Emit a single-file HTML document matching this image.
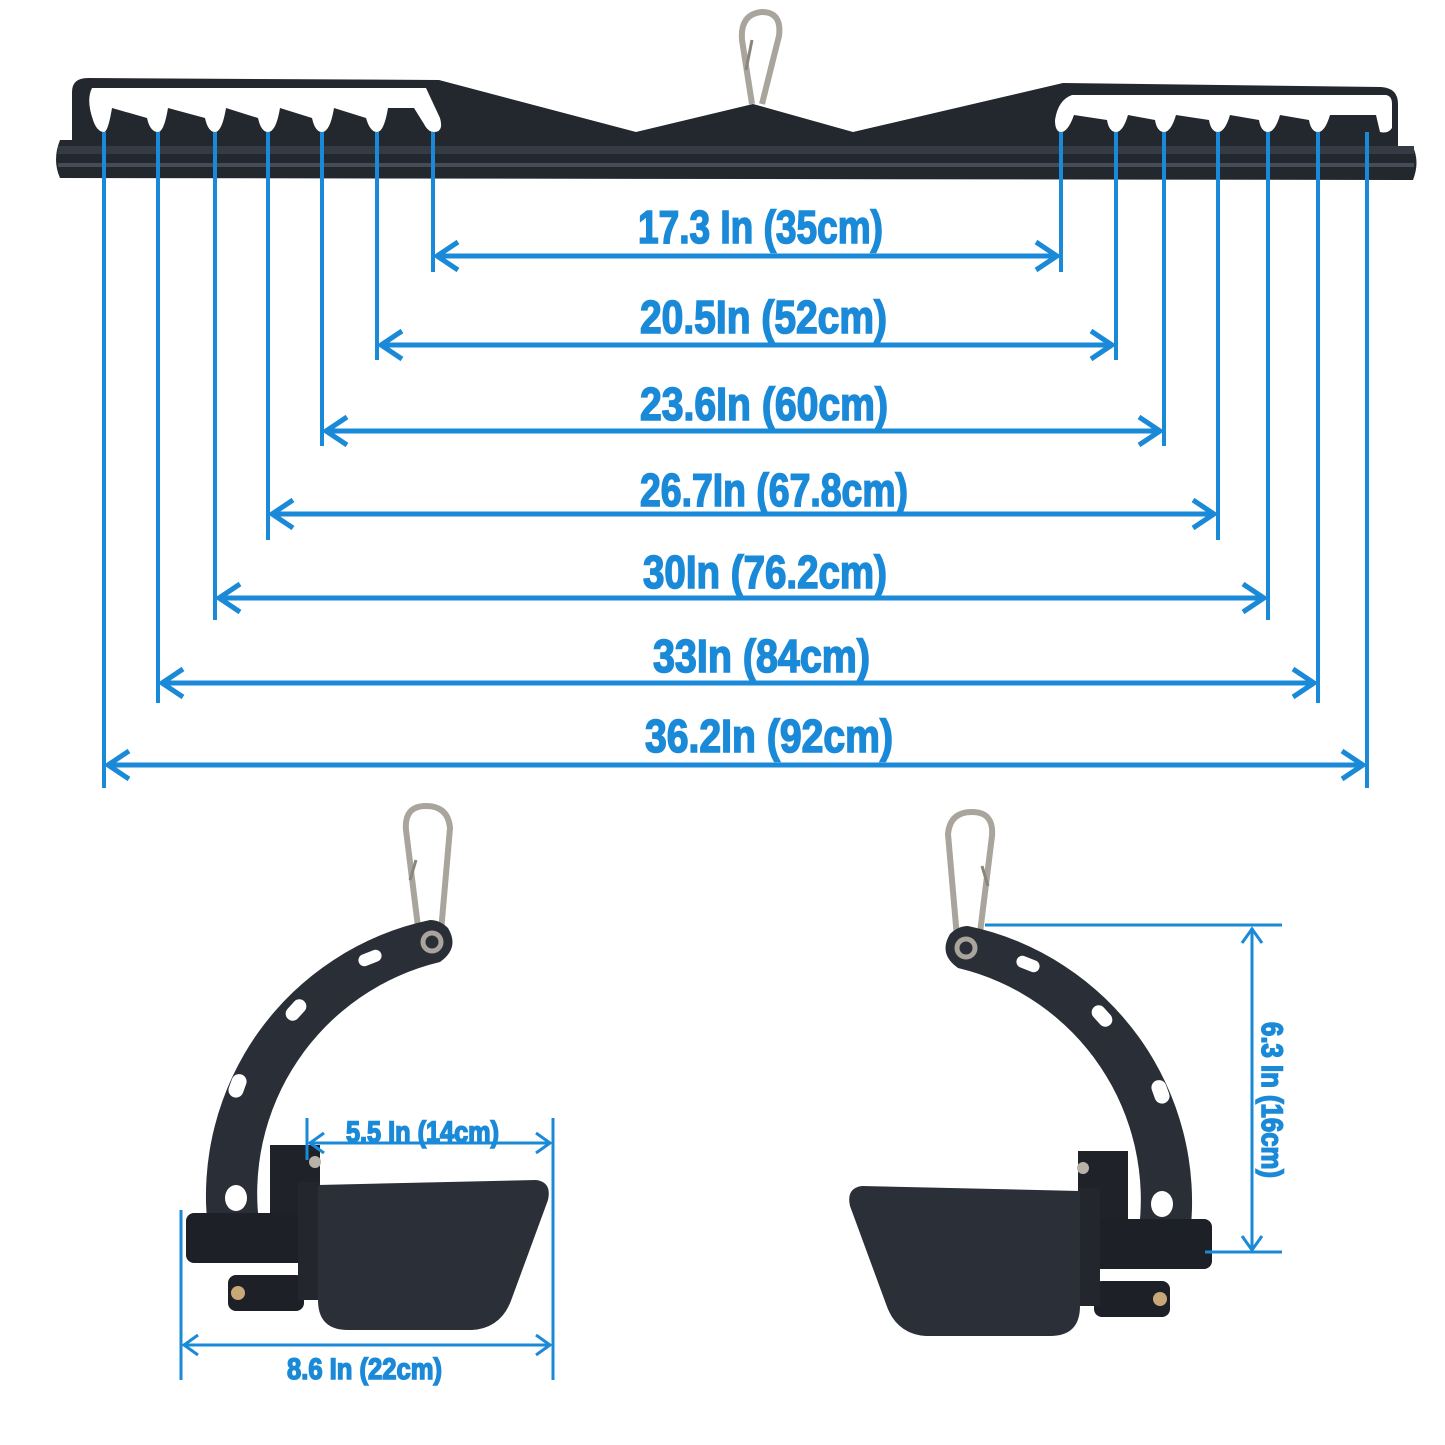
<!DOCTYPE html>
<html><head><meta charset="utf-8">
<style>
html,body{margin:0;padding:0;background:#fff;}
svg{display:block;}
text{font-family:"Liberation Sans",sans-serif;font-weight:bold;fill:#1a8ad8;stroke:#1a8ad8;stroke-width:1.6;}
</style></head>
<body>
<svg width="1445" height="1445" viewBox="0 0 1445 1445" xmlns="http://www.w3.org/2000/svg">
<rect width="1445" height="1445" fill="#fff"/>

<!-- top carabiner -->
<path d="M752 104 L742 40 Q740 14 762 12 Q782 12 779 36 L762 104" fill="none" stroke="#a9a49c" stroke-width="6"/>
<path d="M746 70 L752 40" stroke="#8a857c" stroke-width="3"/>

<!-- bar plate -->
<path d="M60 140 L72 140 L72 92 Q72 78 88 78 L439 80 L636 132 L753 104 L853 132 L1063 83 L1381 87 Q1398 88 1398 104 L1398 147 L1413 147 Q1420 162 1413 180 L60 178 Q52 160 60 140 Z" fill="#23272e"/>
<rect x="58" y="146" width="1356" height="8" fill="#353b44"/>
<rect x="58" y="163" width="1356" height="4" fill="#444c58"/>
<!-- left slot -->
<path d="M92 88 L426 88 L440 118 Q444 132 434 132 Q428 132 424 124 L414 108 L388 108 Q384 132 377 132 Q370 132 366 118 L334 108 Q330 132 322 132 Q315 132 312 118 L280 108 Q276 132 268 132 Q261 132 258 118 L226 108 Q222 132 215 132 Q208 132 205 118 L168 108 Q164 132 158 132 Q150 132 147 118 L112 108 Q108 132 104 132 Q97 132 93 120 Q86 100 92 88 Z" fill="#fff"/>
<!-- right slot -->
<path d="M1072 95 L1386 95 Q1392 96 1392 104 L1392 128 Q1388 134 1380 132 L1376 115 L1330 115 Q1325 132 1318 132 Q1311 132 1309 120 L1280 115 Q1275 132 1268 132 Q1261 132 1259 120 L1230 115 Q1225 132 1218 132 Q1211 132 1209 120 L1176 115 Q1171 132 1164 132 Q1157 132 1155 120 L1128 115 Q1123 132 1116 132 Q1109 132 1107 120 L1074 115 Q1068 132 1061 132 Q1055 132 1055 120 Q1058 100 1072 95 Z" fill="#fff"/>

<!-- vertical dimension lines -->
<g stroke="#1a8ad8" stroke-width="4">
<line x1="104" y1="132" x2="104" y2="788"/>
<line x1="158" y1="132" x2="158" y2="703"/>
<line x1="215" y1="132" x2="215" y2="620"/>
<line x1="268" y1="132" x2="268" y2="540"/>
<line x1="322" y1="132" x2="322" y2="446"/>
<line x1="377" y1="132" x2="377" y2="360"/>
<line x1="433" y1="132" x2="433" y2="272"/>
<line x1="1061" y1="132" x2="1061" y2="272"/>
<line x1="1116" y1="132" x2="1116" y2="360"/>
<line x1="1164" y1="132" x2="1164" y2="446"/>
<line x1="1218" y1="132" x2="1218" y2="540"/>
<line x1="1268" y1="132" x2="1268" y2="620"/>
<line x1="1318" y1="132" x2="1318" y2="703"/>
<line x1="1367" y1="132" x2="1367" y2="788"/>
</g>
<!-- horizontal arrows -->
<g stroke="#1a8ad8" stroke-width="5" fill="none">
<line x1="436" y1="256" x2="1058" y2="256"/>
<polyline points="458,242 437,256 458,270"/><polyline points="1036,242 1057,256 1036,270"/>
<line x1="380" y1="345" x2="1113" y2="345"/>
<polyline points="402,331 381,345 402,359"/><polyline points="1091,331 1112,345 1091,359"/>
<line x1="325" y1="431" x2="1161" y2="431"/>
<polyline points="347,417 326,431 347,445"/><polyline points="1139,417 1160,431 1139,445"/>
<line x1="271" y1="514" x2="1215" y2="514"/>
<polyline points="293,500 272,514 293,528"/><polyline points="1193,500 1214,514 1193,528"/>
<line x1="218" y1="598" x2="1265" y2="598"/>
<polyline points="240,584 219,598 240,612"/><polyline points="1243,584 1264,598 1243,612"/>
<line x1="161" y1="683" x2="1315" y2="683"/>
<polyline points="183,669 162,683 183,697"/><polyline points="1293,669 1314,683 1293,697"/>
<line x1="107" y1="765" x2="1364" y2="765"/>
<polyline points="129,751 108,765 129,779"/><polyline points="1342,751 1363,765 1342,779"/>
</g>
<g font-size="46">
<text x="638" y="243" textLength="245" lengthAdjust="spacingAndGlyphs">17.3 In (35cm)</text>
<text x="640" y="333" textLength="247" lengthAdjust="spacingAndGlyphs">20.5In (52cm)</text>
<text x="640" y="420" textLength="248" lengthAdjust="spacingAndGlyphs">23.6In (60cm)</text>
<text x="640" y="506" textLength="268" lengthAdjust="spacingAndGlyphs">26.7In (67.8cm)</text>
<text x="643" y="588" textLength="244" lengthAdjust="spacingAndGlyphs">30In (76.2cm)</text>
<text x="653" y="672" textLength="217" lengthAdjust="spacingAndGlyphs">33In (84cm)</text>
<text x="645" y="752" textLength="248" lengthAdjust="spacingAndGlyphs">36.2In (92cm)</text>
</g>

<!-- handle template -->
<g id="handle">
<path d="M420 943 L406 830 Q404 806 426 806 Q448 806 450 828 L440 943" fill="none" stroke="#a9a49c" stroke-width="6"/>
<path d="M410 880 L416 860" stroke="#8a857c" stroke-width="3"/>
<path d="M430 920 A282 282 0 0 0 208 1230 L260 1230 A238 238 0 0 1 440 962 Q460 948 448 928 Q440 920 430 920 Z" fill="#2a2f37"/>
<circle cx="432" cy="942" r="9" fill="none" stroke="#a9a49c" stroke-width="5"/>
<g fill="#fff">
<rect x="358" y="952" width="24" height="12" rx="6" transform="rotate(-22 370 958)"/>
<rect x="284" y="1003" width="24" height="14" rx="7" transform="rotate(-48 296 1010)"/>
<rect x="226" y="1078" width="24" height="15" rx="7.5" transform="rotate(-70 238 1086)"/>
<ellipse cx="236" cy="1198" rx="11" ry="13"/>
</g>
<rect x="270" y="1145" width="50" height="100" fill="#1f2329"/>
<rect x="186" y="1213" width="120" height="50" rx="8" fill="#1d2127"/>
<rect x="228" y="1275" width="76" height="36" rx="8" fill="#1d2127"/>
<circle cx="238" cy="1293" r="7" fill="#c9a877"/>
<circle cx="315" cy="1162" r="6" fill="#b8b2a8"/>
<circle cx="308" cy="1243" r="5" fill="#b8b2a8"/>
<circle cx="308" cy="1295" r="5" fill="#b8b2a8"/>
<rect x="298" y="1182" width="22" height="118" fill="#23272d"/>
<path d="M318 1185 L536 1180 Q552 1182 548 1200 L512 1298 Q502 1328 472 1330 L348 1330 Q318 1330 318 1300 Z" fill="#2b3038"/>
</g>
<use href="#handle" transform="translate(1398,6) scale(-1,1)"/>

<!-- left handle dims -->
<g stroke="#1a8ad8" stroke-width="3" fill="none">
<line x1="307" y1="1118" x2="307" y2="1160"/>
<line x1="553" y1="1118" x2="553" y2="1380"/>
<line x1="181" y1="1210" x2="181" y2="1380"/>
<line x1="309" y1="1143" x2="551" y2="1143"/>
<polyline points="324,1133 310,1143 324,1153"/><polyline points="536,1133 550,1143 536,1153"/>
<line x1="183" y1="1345" x2="551" y2="1345"/>
<polyline points="198,1335 184,1345 198,1355"/><polyline points="536,1335 550,1345 536,1355"/>
<!-- right dims -->
<line x1="985" y1="925" x2="1282" y2="925"/>
<line x1="1205" y1="1252" x2="1282" y2="1252"/>
<line x1="1252" y1="928" x2="1252" y2="1249"/>
<polyline points="1242,943 1252,929 1262,943"/><polyline points="1242,1236 1252,1250 1262,1236"/>
</g>
<g font-size="30">
<text x="346" y="1142" textLength="153" lengthAdjust="spacingAndGlyphs">5.5 In (14cm)</text>
<text x="287" y="1379" textLength="155" lengthAdjust="spacingAndGlyphs">8.6 In (22cm)</text>
<text transform="translate(1262,1022) rotate(90)" x="0" y="0" textLength="156" lengthAdjust="spacingAndGlyphs">6.3 In (16cm)</text>
</g>
</svg>
</body></html>
